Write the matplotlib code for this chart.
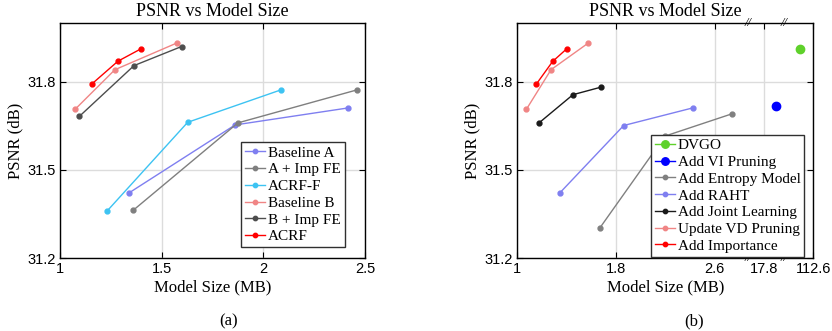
import numpy as np
import matplotlib
matplotlib.use("Agg")
import matplotlib.pyplot as plt
import matplotlib.transforms as mtransforms

# ---- panel (a) data ----
base_a_x = [1.338, 1.861, 2.418]
base_a_y = [31.421, 31.653, 31.711]
a_imp_x = [1.361, 1.875, 2.459]
a_imp_y = [31.363, 31.660, 31.772]
acrf_f_x = [1.233, 1.628, 2.085]
acrf_f_y = [31.361, 31.662, 31.772]
base_b_x = [1.074, 1.270, 1.575]
base_b_y = [31.706, 31.841, 31.932]
b_imp_x = [1.095, 1.364, 1.598]
b_imp_y = [31.682, 31.855, 31.920]
acrf_x = [1.156, 1.285, 1.398]
acrf_y = [31.792, 31.870, 31.912]

# ---- panel (b) data ----
dvgo_x = [101.5]
dvgo_y = [31.912]
vi_x = [21.0]
vi_y = [31.716]
entropy_x = [1.670, 2.197, 2.741]
entropy_y = [31.303, 31.615, 31.691]
raht_x = [1.343, 1.862, 2.422]
raht_y = [31.421, 31.651, 31.711]
joint_x = [1.176, 1.451, 1.681]
joint_y = [31.660, 31.756, 31.782]
vd_x = [1.073, 1.273, 1.576]
vd_y = [31.706, 31.841, 31.932]
imp_x = [1.154, 1.286, 1.400]
imp_y = [31.792, 31.869, 31.912]

a_ticks = [1, 1.5, 2, 2.5]
b_ticks = [1, 1.8, 2.6, 17.8, 112.6]
y_ticks = [31.2, 31.5, 31.8]

# broken x axis for panel (b)
val_knots = [1, 2.868, 13.4, 23.3, 89.1, 112.6]
pos_knots = [0, 1.868, 1.868, 2.165, 2.165, 2.4]


def fwd(v):
    return np.interp(v, val_knots, pos_knots)


def inv(u):
    return np.interp(u, [0, 1.868, 1.868 + 1e-9, 2.165, 2.165 + 1e-9, 2.4],
                     val_knots)


serif = "Liberation Serif"
sans = "Liberation Sans"
plt.rcParams["font.family"] = serif
plt.rcParams["xtick.direction"] = "in"
plt.rcParams["ytick.direction"] = "in"

fig = plt.figure(figsize=(8.32, 3.31), dpi=100)
ax1 = fig.add_axes([0.0721, 0.2205, 0.3666, 0.710])
ax2 = fig.add_axes([0.6218, 0.2205, 0.3558, 0.710])


def style(ax):
    ax.set_ylim(31.2, 32.0)
    ax.set_yticks(y_ticks)
    ax.set_yticklabels(["%.1f" % t for t in y_ticks], family=sans, fontsize=10.5)
    ax.grid(True, color="#dcdcdc", linewidth=1)
    ax.set_axisbelow(True)
    ax.tick_params(top=True, right=True, length=4, width=0.8, pad=3)
    for s in ax.spines.values():
        s.set_linewidth(1)
    ax.set_title("PSNR vs Model Size", fontsize=13, pad=5)
    ax.set_xlabel("Model Size (MB)", fontsize=12, labelpad=2)
    ax.set_ylabel("PSNR (dB)", fontsize=12, labelpad=3)


lw = 1
ms = 3.5

ax1.plot(base_a_x, base_a_y, "-o", color="#7f7ff0", lw=lw, ms=ms, label="Baseline A")
ax1.plot(a_imp_x, a_imp_y, "-o", color="#7f7f7f", lw=lw, ms=ms, label="A + Imp FE")
ax1.plot(acrf_f_x, acrf_f_y, "-o", color="#3dc3f2", lw=lw, ms=ms, label="ACRF-F")
ax1.plot(base_b_x, base_b_y, "-o", color="#f08585", lw=lw, ms=ms, label="Baseline B")
ax1.plot(b_imp_x, b_imp_y, "-o", color="#4d4d4d", lw=lw, ms=ms, label="B + Imp FE")
ax1.plot(acrf_x, acrf_y, "-o", color="#ff0000", lw=lw, ms=ms, label="ACRF")
ax1.set_xlim(1, 2.5)
ax1.set_xticks(a_ticks)
ax1.set_xticklabels(["1", "1.5", "2", "2.5"], family=sans, fontsize=10.5)
style(ax1)

ax2.set_xscale("function", functions=(fwd, inv))
ax2.plot(dvgo_x, dvgo_y, "-o", color="#5fd12b", lw=lw, ms=6, label="DVGO")
ax2.plot(vi_x, vi_y, "-o", color="#0000ff", lw=lw, ms=6, label="Add VI Pruning")
ax2.plot(entropy_x, entropy_y, "-o", color="#808080", lw=lw, ms=ms, label="Add Entropy Model")
ax2.plot(raht_x, raht_y, "-o", color="#7f7ff0", lw=lw, ms=ms, label="Add RAHT")
ax2.plot(joint_x, joint_y, "-o", color="#1a1a1a", lw=lw, ms=ms, label="Add Joint Learning")
ax2.plot(vd_x, vd_y, "-o", color="#f08585", lw=lw, ms=ms, label="Update VD Pruning")
ax2.plot(imp_x, imp_y, "-o", color="#ff0000", lw=lw, ms=ms, label="Add Importance")
ax2.set_xlim(1, 112.6)
ax2.set_xticks(b_ticks)
ax2.set_xticklabels(["1", "1.8", "2.6", "17.8", "112.6"], family=sans, fontsize=10.5)
ax2.minorticks_off()
style(ax2)

# break marks
trans = mtransforms.blended_transform_factory(ax2.transData, ax2.transAxes)
for bx in [2.868, 23.3]:
    for by in [0, 1]:
        ax2.text(bx, by, "//", transform=trans, ha="center", va="center",
                 fontsize=9, style="italic", clip_on=False, zorder=5)

leg_kw = dict(fontsize=11, handlelength=1.3, handletextpad=0.2, labelspacing=0.2,
              borderpad=0.25, borderaxespad=0, fancybox=False, framealpha=1,
              edgecolor="#303030", markerscale=0.9)
l1 = ax1.legend(loc="lower right", bbox_to_anchor=(0.933, 0.046), **leg_kw)
l2 = ax2.legend(loc="lower right", bbox_to_anchor=(0.970, 0.006), **leg_kw)
for l in (l1, l2):
    l.get_frame().set_linewidth(1)
    l.set_zorder(10)

fig.text(0.2745, 0.03, "(a)", ha="center", va="center", fontsize=12)
fig.text(0.834, 0.03, "(b)", ha="center", va="center", fontsize=12)

fig.savefig("out.png", dpi=100)
